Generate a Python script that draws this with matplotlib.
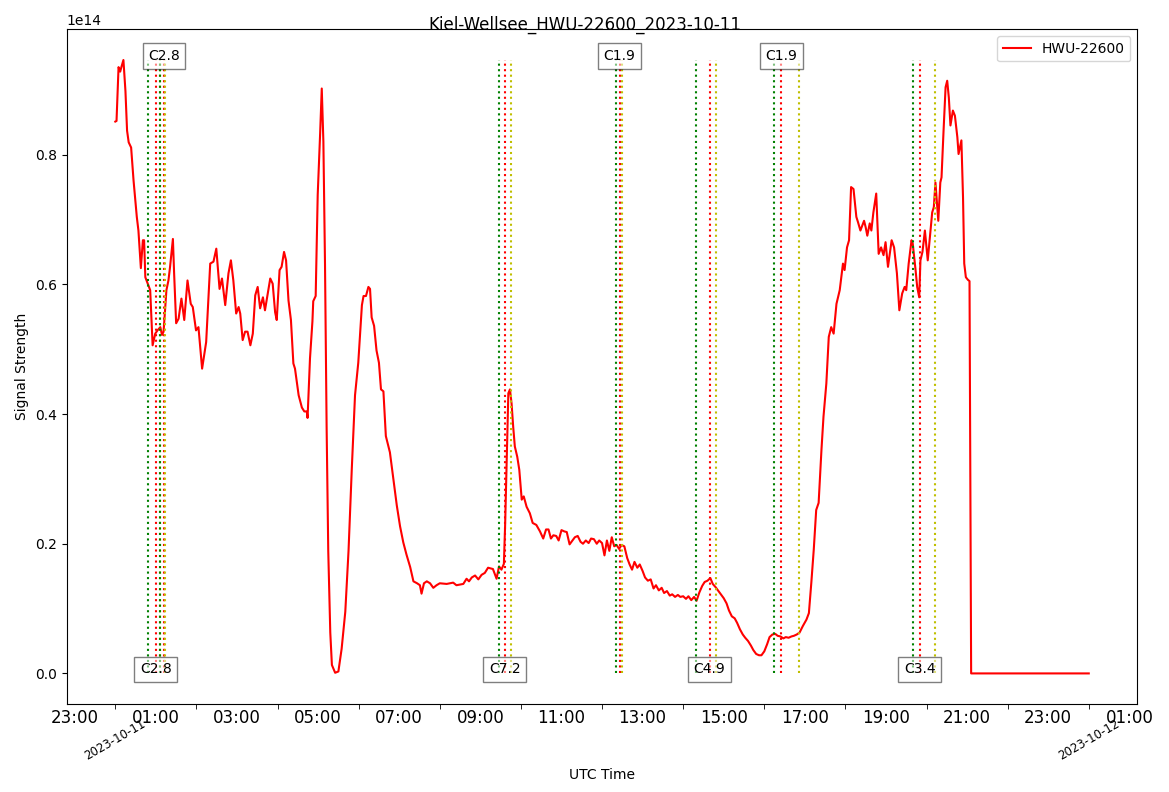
import numpy as np
import pandas as pd
import matplotlib
matplotlib.use('Agg')
import matplotlib.pyplot as plt
import matplotlib.dates as mdates
from matplotlib.ticker import FuncFormatter

# signal: hours after 2023-10-11 00:00 UTC, value in 1e14
hours = [
    0.00, 0.03, 0.08, 0.12, 0.15, 0.20, 0.25, 0.29, 0.33, 0.39, 0.45, 0.53, 0.57, 0.63,
    0.68, 0.71, 0.74, 0.80, 0.86, 0.92, 0.985, 1.04, 1.11, 1.15, 1.19, 1.26, 1.31, 1.35,
    1.42, 1.45, 1.50, 1.56, 1.63, 1.70, 1.78, 1.86, 1.91, 1.99, 2.05, 2.14, 2.24, 2.34,
    2.42, 2.49, 2.57, 2.63, 2.71, 2.79, 2.85, 2.91, 2.98, 3.04, 3.08, 3.14, 3.20, 3.26,
    3.33, 3.39, 3.45, 3.51, 3.57, 3.64, 3.69, 3.75, 3.82, 3.88, 3.94, 3.98, 4.05, 4.10,
    4.16, 4.21, 4.27, 4.33, 4.39, 4.43, 4.52, 4.60, 4.66, 4.72, 4.74, 4.80, 4.86, 4.88,
    4.94, 4.99, 5.05, 5.09, 5.13, 5.17, 5.21, 5.25, 5.30, 5.34, 5.42, 5.50, 5.58, 5.67,
    5.75, 5.83, 5.91, 5.99, 6.08, 6.12, 6.18, 6.24, 6.28, 6.32, 6.38, 6.44, 6.50, 6.55,
    6.61, 6.67, 6.77, 6.86, 6.94, 7.02, 7.10, 7.18, 7.27, 7.35, 7.44, 7.51, 7.55, 7.61,
    7.68, 7.76, 7.84, 7.92, 8.00, 8.17, 8.33, 8.41, 8.50, 8.58, 8.66, 8.72, 8.79, 8.87,
    8.95, 9.03, 9.11, 9.19, 9.31, 9.40, 9.46, 9.52, 9.58, 9.61, 9.65, 9.69, 9.73, 9.77,
    9.81, 9.85, 9.91, 9.96, 10.02, 10.07, 10.14, 10.22, 10.29, 10.38, 10.47, 10.55, 10.62,
    10.68, 10.74, 10.80, 10.87, 10.93, 11.00, 11.07, 11.13, 11.20, 11.27, 11.33, 11.40,
    11.47, 11.53, 11.60, 11.67, 11.73, 11.80, 11.87, 11.93, 12.00, 12.06, 12.12, 12.18,
    12.24, 12.30, 12.36, 12.42, 12.48, 12.55, 12.62, 12.68, 12.74, 12.80, 12.87, 12.93,
    13.00, 13.06, 13.13, 13.20, 13.27, 13.33, 13.40, 13.47, 13.53, 13.60, 13.67, 13.73,
    13.80, 13.87, 13.93, 14.00, 14.07, 14.13, 14.20, 14.27, 14.33, 14.40, 14.47, 14.53,
    14.60, 14.67, 14.73, 14.80, 14.87, 14.93, 15.00, 15.07, 15.13, 15.20, 15.27, 15.33,
    15.40, 15.47, 15.53, 15.60, 15.67, 15.73, 15.80, 15.87, 15.93, 16.00, 16.07, 16.13,
    16.20, 16.27, 16.33, 16.40, 16.47, 16.53, 16.60, 16.67, 16.73, 16.80, 16.87, 16.95,
    17.04, 17.10, 17.16, 17.22, 17.28, 17.34, 17.41, 17.46, 17.53, 17.59, 17.65, 17.71,
    17.78, 17.86, 17.94, 17.98, 18.04, 18.09, 18.14, 18.20, 18.27, 18.31, 18.37, 18.46,
    18.50, 18.54, 18.60, 18.64, 18.69, 18.76, 18.82, 18.88, 18.94, 18.99, 19.05, 19.14,
    19.20, 19.27, 19.33, 19.40, 19.46, 19.50, 19.56, 19.63, 19.66, 19.73, 19.77, 19.82,
    19.85, 19.90, 19.96, 20.03, 20.09, 20.14, 20.18, 20.22, 20.29, 20.34, 20.37, 20.42,
    20.47, 20.51, 20.55, 20.59, 20.65, 20.70, 20.76, 20.79, 20.86, 20.90, 20.93, 20.97,
    21.02, 21.06, 21.08, 21.10, 24.00,
]
signal = [
    0.851, 0.852, 0.935, 0.928, 0.935, 0.946, 0.898, 0.837, 0.819, 0.811, 0.760, 0.704, 0.683, 0.625,
    0.668, 0.668, 0.611, 0.601, 0.591, 0.506, 0.524, 0.529, 0.534, 0.522, 0.527, 0.591, 0.606, 0.627,
    0.670, 0.617, 0.540, 0.547, 0.578, 0.545, 0.606, 0.570, 0.565, 0.529, 0.534, 0.470, 0.511, 0.632,
    0.635, 0.655, 0.593, 0.609, 0.568, 0.617, 0.637, 0.606, 0.555, 0.565, 0.555, 0.514, 0.527, 0.527,
    0.506, 0.524, 0.583, 0.596, 0.563, 0.580, 0.560, 0.583, 0.609, 0.601, 0.557, 0.545, 0.622, 0.627,
    0.650, 0.637, 0.575, 0.545, 0.478, 0.470, 0.429, 0.410, 0.404, 0.404, 0.394, 0.486, 0.543, 0.574,
    0.582, 0.738, 0.833, 0.902, 0.820, 0.631, 0.379, 0.189, 0.063, 0.013, 0.001, 0.003, 0.038, 0.095,
    0.189, 0.315, 0.429, 0.479, 0.568, 0.582, 0.582, 0.596, 0.593, 0.549, 0.536, 0.498, 0.479, 0.438,
    0.435, 0.366, 0.341, 0.297, 0.259, 0.227, 0.202, 0.183, 0.164, 0.142, 0.139, 0.136, 0.123, 0.139,
    0.142, 0.139, 0.132, 0.136, 0.139, 0.138, 0.140, 0.136, 0.137, 0.138, 0.146, 0.142, 0.148, 0.151,
    0.145, 0.152, 0.155, 0.163, 0.161, 0.146, 0.165, 0.160, 0.169, 0.227, 0.329, 0.432, 0.438, 0.416,
    0.380, 0.350, 0.334, 0.314, 0.268, 0.273, 0.257, 0.247, 0.232, 0.229, 0.219, 0.208, 0.222,
    0.222, 0.208, 0.213, 0.212, 0.205, 0.221, 0.219, 0.218, 0.199, 0.205, 0.210, 0.212,
    0.203, 0.200, 0.205, 0.201, 0.208, 0.207, 0.200, 0.205, 0.201, 0.182, 0.205, 0.189,
    0.210, 0.196, 0.198, 0.192, 0.198, 0.196, 0.178, 0.168, 0.160, 0.172, 0.163, 0.168,
    0.158, 0.148, 0.143, 0.145, 0.131, 0.136, 0.128, 0.132, 0.124, 0.127, 0.120, 0.122,
    0.118, 0.121, 0.118, 0.119, 0.115, 0.119, 0.113, 0.118, 0.112, 0.125, 0.135, 0.141,
    0.143, 0.147, 0.138, 0.133, 0.127, 0.122, 0.116, 0.108, 0.097, 0.088, 0.085, 0.078,
    0.068, 0.060, 0.055, 0.050, 0.043, 0.036, 0.030, 0.028, 0.028, 0.034, 0.045, 0.056,
    0.060, 0.061, 0.058, 0.057, 0.054, 0.056, 0.055, 0.057, 0.058, 0.060, 0.063, 0.073,
    0.083, 0.093, 0.140, 0.191, 0.252, 0.263, 0.345, 0.396, 0.447, 0.519, 0.534, 0.524,
    0.570, 0.591, 0.632, 0.622, 0.657, 0.668, 0.750, 0.747, 0.704, 0.696, 0.683, 0.698,
    0.688, 0.675, 0.694, 0.683, 0.711, 0.740, 0.647, 0.657, 0.645, 0.665, 0.627, 0.668,
    0.657, 0.617, 0.560, 0.586, 0.596, 0.591, 0.632, 0.668, 0.663, 0.622, 0.596, 0.580,
    0.637, 0.650, 0.683, 0.637, 0.678, 0.711, 0.719, 0.757, 0.698, 0.757, 0.765, 0.837,
    0.904, 0.914, 0.888, 0.845, 0.868, 0.860, 0.827, 0.801, 0.822, 0.734, 0.632, 0.611,
    0.607, 0.605, 0.300, 0.000, 0.000,
]

# flares (UTC) with GOES class
flare_start = ['00:48', '01:06', '09:28', '12:20', '14:19', '16:15', '19:40']
flare_peak = ['01:00', '01:12', '09:36', '12:26', '14:39', '16:25', '19:50']
flare_end = ['01:06', '01:14', '09:46', '12:30', '14:49', '16:51', '20:13']
flare_class = ['C2.8', 'C2.8', 'C7.2', 'C1.9', 'C4.9', 'C1.9', 'C3.4']

day = pd.Timestamp('2023-10-11')
times = day + pd.to_timedelta(hours, unit='h')
values = np.array(signal) * 1e14

fig, ax = plt.subplots(figsize=(11.69, 7.92), dpi=100)
fig.subplots_adjust(left=0.057, right=0.973, top=0.963, bottom=0.111)

ax.plot(times, values, color='red', linewidth=1.5, label='HWU-22600')

top = values.max()
for i, cls in enumerate(flare_class):
    t_start = day + pd.to_timedelta(flare_start[i] + ':00')
    t_peak = day + pd.to_timedelta(flare_peak[i] + ':00')
    t_end = day + pd.to_timedelta(flare_end[i] + ':00')
    ax.vlines(t_start, 0, top, colors='g', linestyles=':', linewidth=1.5)
    ax.vlines(t_peak, 0, top, colors='r', linestyles=':', linewidth=1.5)
    ax.vlines(t_end, 0, top, colors='y', linestyles=':', linewidth=1.5)
    # alternate label position: bottom / top
    y_txt = 0 if i % 2 == 0 else top
    ax.text(t_peak, y_txt, cls, ha='center', fontsize=10,
            bbox=dict(facecolor='white', alpha=0.5))

ax.xaxis.set_major_locator(mdates.HourLocator(byhour=range(1, 24, 2)))
ax.xaxis.set_major_formatter(mdates.DateFormatter('%H:%M'))
ax.xaxis.set_minor_locator(mdates.HourLocator(byhour=range(0, 24, 2)))


def day_label(x, pos=None):
    d = mdates.num2date(x)
    if d.hour == 0 and d.minute == 0:
        return d.strftime('%Y-%m-%d')
    return ''


ax.xaxis.set_minor_formatter(FuncFormatter(day_label))
ax.tick_params(axis='x', which='major', labelsize=12, length=0)
ax.tick_params(axis='x', which='minor', labelsize=8.5, labelrotation=30, pad=6, length=3.5)
ax.ticklabel_format(axis='y', style='sci', scilimits=(14, 14))

ax.set_xlabel('UTC Time')
ax.set_ylabel('Signal Strength')
fig.suptitle('Kiel-Wellsee_HWU-22600_2023-10-11')
ax.legend(loc='upper right')

fig.savefig('out.png', dpi=100)
